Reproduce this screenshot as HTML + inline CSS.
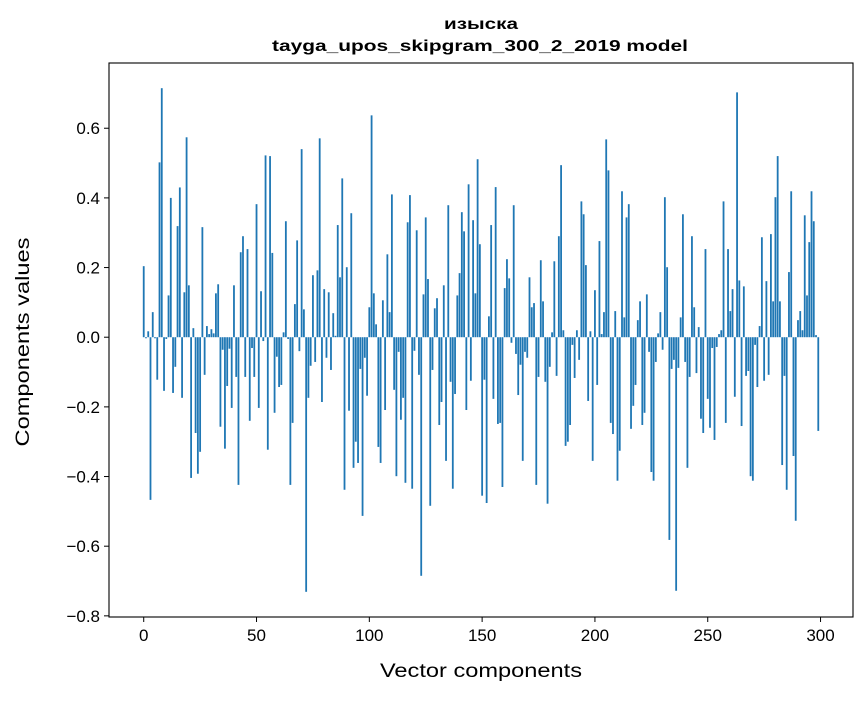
<!DOCTYPE html>
<html><head><meta charset="utf-8"><style>
body{margin:0;background:#fff;}
svg text{font-family:"Liberation Sans","DejaVu Sans",sans-serif;fill:#000;}
</style></head><body>
<svg id="chart" width="867" height="696" xmlns="http://www.w3.org/2000/svg">
<text x="481" y="29" font-size="16" font-weight="bold" text-anchor="middle" textLength="74" lengthAdjust="spacingAndGlyphs">изыска</text>
<text x="480" y="51" font-size="16" font-weight="bold" text-anchor="middle" textLength="416" lengthAdjust="spacingAndGlyphs">tayga_upos_skipgram_300_2_2019 model</text>
<g id="bars"></g>
<g id="axes"></g>
<text x="481" y="677" font-size="19" text-anchor="middle" textLength="202" lengthAdjust="spacingAndGlyphs">Vector components</text>
<text transform="translate(29,342) rotate(-90)" font-size="19" text-anchor="middle" textLength="209" lengthAdjust="spacingAndGlyphs">Components values</text>
</svg>
<script>
const values = [0.204,-0.003,0.017,-0.467,0.072,-0.003,-0.122,0.502,0.715,-0.154,-0.005,0.12,0.40,-0.16,-0.085,0.319,0.43,-0.174,0.129,0.574,0.149,-0.404,0.026,-0.275,-0.392,-0.329,0.316,-0.108,0.032,0.009,0.023,0.011,0.126,0.152,-0.257,-0.036,-0.32,-0.14,-0.033,-0.203,0.149,-0.114,-0.424,0.244,0.29,-0.114,0.253,-0.24,-0.031,-0.114,0.382,-0.203,0.132,-0.011,0.522,-0.323,0.52,0.242,-0.217,-0.056,-0.143,-0.137,0.014,0.333,-0.005,-0.424,-0.246,0.095,0.278,-0.04,0.54,0.08,-0.731,-0.174,-0.082,0.178,-0.071,0.192,0.571,-0.186,0.138,-0.059,0.129,-0.094,0.069,0.004,0.322,0.172,0.456,-0.438,0.201,-0.211,0.356,-0.375,-0.3,-0.361,-0.091,-0.513,-0.059,-0.168,0.086,0.637,0.126,0.037,-0.315,-0.361,0.106,-0.209,0.238,0.072,0.41,-0.151,-0.399,-0.042,-0.237,-0.174,-0.418,0.33,0.408,-0.435,-0.039,0.307,-0.108,-0.685,0.123,0.344,0.167,-0.484,-0.094,0.083,0.112,-0.252,-0.186,0.149,-0.355,0.379,-0.128,-0.435,-0.163,0.12,0.184,0.359,0.304,-0.209,0.439,-0.125,0.336,0.126,0.511,0.267,-0.455,-0.122,-0.476,0.06,0.322,-0.177,0.431,-0.249,-0.246,-0.43,0.141,0.224,0.169,-0.016,0.379,-0.048,-0.166,-0.079,-0.355,-0.042,-0.059,0.172,0.086,0.098,-0.424,-0.114,0.221,0.103,-0.128,-0.478,-0.085,0.014,0.218,-0.111,0.29,0.494,0.02,-0.312,-0.3,-0.252,-0.022,-0.117,0.02,-0.065,0.39,0.353,0.207,-0.183,0.017,-0.355,0.135,-0.137,0.276,0.009,0.072,0.568,0.479,-0.246,-0.278,0.075,-0.412,-0.326,0.419,0.057,0.344,0.382,-0.263,-0.197,-0.137,0.049,0.103,-0.252,-0.217,0.123,-0.042,-0.387,-0.412,-0.071,0.011,0.072,-0.036,0.402,0.201,-0.582,-0.091,-0.065,-0.728,-0.088,0.057,0.353,-0.071,-0.375,-0.114,0.29,0.086,-0.103,0.029,-0.234,-0.275,0.253,-0.177,-0.26,-0.031,-0.295,-0.028,0.009,0.02,0.39,-0.246,0.253,0.075,0.138,-0.171,0.703,0.163,-0.255,0.146,-0.111,-0.097,-0.399,-0.412,-0.022,-0.143,0.032,0.287,-0.125,0.161,-0.108,0.296,0.103,0.402,0.52,0.103,-0.367,-0.111,-0.438,0.187,0.419,-0.341,-0.527,0.049,0.075,0.02,0.35,0.12,0.273,0.419,0.333,0.006,-0.269];
const xTicks = [0,50,100,150,200,250,300];
const yTicks = [-0.8,-0.6,-0.4,-0.2,0.0,0.2,0.4,0.6];

const L=109,R=853,T=63,B=617;
const ns="http://www.w3.org/2000/svg";
const n=values.length;
const xmin0=-0.4,xmax0=n-1+0.4,xm=(xmax0-xmin0)*0.05;
const xMin=xmin0-xm,xMax=xmax0+xm;
const vmin=Math.min(0,...values),vmax=Math.max(0,...values),ym=(vmax-vmin)*0.05;
const yMin=vmin-ym,yMax=vmax+ym;
function xs(v){return L+(v-xMin)/(xMax-xMin)*(R-L);}
function ys(v){return B-(v-yMin)/(yMax-yMin)*(B-T);}
const gb=document.getElementById('bars');
values.forEach((v,i)=>{
  const r=document.createElementNS(ns,'rect');
  const x0=xs(i-0.4),x1=xs(i+0.4);
  const y0=ys(Math.max(0,v)),y1=ys(Math.min(0,v));
  r.setAttribute('x',x0);r.setAttribute('width',x1-x0);
  r.setAttribute('y',y0);r.setAttribute('height',Math.max(0.3,y1-y0));
  r.setAttribute('fill','#1f77b4');
  
  
  gb.appendChild(r);
});
const ga=document.getElementById('axes');
function add(tag,attrs,text){const e=document.createElementNS(ns,tag);for(const k in attrs)e.setAttribute(k,attrs[k]);if(text!==undefined)e.textContent=text;ga.appendChild(e);return e;}
const frame=add('rect',{x:L,y:T,width:R-L,height:B-T,fill:'none',stroke:'#000','stroke-width':1.1});


xTicks.forEach(t=>{
  const x=xs(t);
  const ln=add('line',{x1:x,x2:x,y1:B,y2:B+5,stroke:'#000','stroke-width':1});
  
  
  const tx=add('text',{x:x,y:B+24,'font-size':17,'text-anchor':'middle'},String(t));
  
  
});
yTicks.forEach(t=>{
  const y=ys(t);
  const ln=add('line',{x1:L-5,x2:L,y1:y,y2:y,stroke:'#000','stroke-width':1});
  
  
  const tx=add('text',{x:L-9,y:y+6,'font-size':17,'text-anchor':'end'},(t<0?'\u2212':'')+Math.abs(t).toFixed(1));
  
  
});
</script>
</body></html>
